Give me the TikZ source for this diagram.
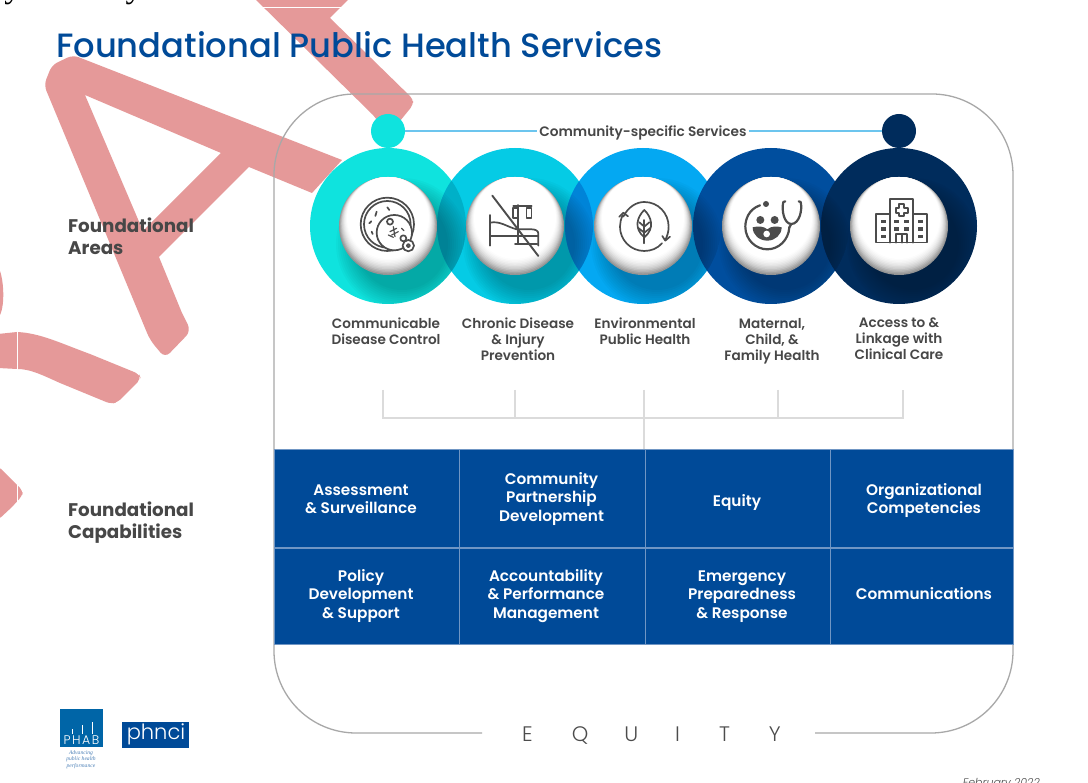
\documentclass[tikz,border=0pt]{standalone}
\usepackage{fontspec}
\setmainfont{Poppins}
\newfontfamily\semi{Poppins SemiBold}
\newfontfamily\medi{Poppins Medium}
\newfontfamily\lite{Poppins Light}
\newfontfamily\serifi{Liberation Serif}
\definecolor{wm}{HTML}{E59999}
\definecolor{navy}{HTML}{004A98}
\definecolor{divd}{HTML}{7096C4}
\definecolor{txt}{HTML}{474747}
\definecolor{icon}{HTML}{4C4C4C}
\definecolor{ra}{HTML}{0FE3DE}
\definecolor{rb}{HTML}{05CBE5}
\definecolor{rc}{HTML}{04A8F2}
\definecolor{rd}{HTML}{004E9E}
\definecolor{re}{HTML}{002C5C}
\definecolor{lensab}{HTML}{00B0C8}
\definecolor{lensbc}{HTML}{0084D8}
\definecolor{barline}{HTML}{6CC5EE}
\tikzset{
  ring/.style={circle,minimum size=156pt,inner sep=0pt,fill=#1},
  topdot/.style={circle,minimum size=34pt,inner sep=0pt,fill=#1},
  grp/.style={font=\bfseries\fontsize{18.3}{22}\selectfont,text=txt,align=left,inner sep=0pt},
  area/.style={font=\semi\fontsize{13.6}{16}\selectfont,text=txt,align=center,inner sep=0pt},
  capt/.style={font=\semi\fontsize{15.3}{18.4}\selectfont,text=white,align=center,inner sep=0pt},
  cell/.style={rectangle,fill=navy,draw=divd,line width=1.1pt,minimum width=#1,minimum height=97pt,inner sep=0pt},
  brk/.style={draw=white!86!black,line width=2.4pt},
  ic/.style={draw=icon,line width=1.7pt,line cap=round,line join=round},
  boxline/.style={draw=white!66!black,line width=1.3pt}
}
\begin{document}
\begin{tikzpicture}[x=1pt,y=-1pt]
\useasboundingbox (0,0) rectangle (1088,783);
\fill[white] (0,0) rectangle (1088,783);
% stray letters cut by the top edge
\node[font=\serifi\fontsize{34}{34}\selectfont,anchor=base,inner sep=0pt] (ya) at (13,-2.5) {y};
\node[font=\serifi\fontsize{34}{34}\selectfont,anchor=base,inner sep=0pt] (yb) at (134,-2.5) {y};
% watermark
\fill[wm,even odd rule]
  (342,160) -- (312,193) -- (249,167) -- (159,257) -- (182,313) [rounded corners=7pt] -- (191,331) -- (165,358) -- (150,340) [rounded corners=6pt] -- (44,85) -- (52,65) -- (73,55) [sharp corners] -- cycle
  (85,95) -- (221,153) -- (143,231) -- cycle;
\fill[wm] (252,-4) -- (373,115) -- (385,130) -- (400,121) [rounded corners=4pt] -- (413,105) -- (413,99) [sharp corners] -- (330,18) -- (352,-4) -- cycle;
\fill[wm] (-2,267) .. controls (4,275) and (6,310) .. (-2,318) -- cycle;
\fill[wm] (-2,334) -- (17,332) .. controls (40,333) and (60,343) .. (90,354) [rounded corners=5pt] -- (139,374) -- (141,379) -- (118,402) -- (111,404) [sharp corners] -- (60,383) .. controls (40,374) and (30,369) .. (17,369) -- (-2,368) -- cycle;
\fill[wm,rounded corners=4pt] (-2,466) -- (23,491) -- (22,496) -- (12,507) -- (-2,520) -- cycle;
\draw[white,line width=.5pt] (0,7) -- (1088,7);
\draw[white,line width=.5pt] (17,7) -- (17,783);
% title
\node[font=\medi\fontsize{33.7}{36}\selectfont,text=navy,anchor=west,inner sep=0pt] (title) at (56,45) {Foundational Public Health Services};
% frame
\draw[boxline] (815,733) -- (931,733) arc[start angle=90,end angle=0,radius=82] -- (1013,175) arc[start angle=0,end angle=-90,radius=81] -- (355,94) arc[start angle=-90,end angle=-180,radius=81] -- (274,651) arc[start angle=180,end angle=90,radius=82] -- (482,733);
\node[font=\lite\fontsize{21}{22}\selectfont,text=icon,inner sep=0pt] (eq) at (651.5,736) {E\hspace{39pt}Q\hspace{36pt}U\hspace{37pt}I\hspace{39pt}T\hspace{39pt}Y};
% rings
\node[ring=ra] (r1) at (388,226) {};
\node[ring=rb] (r2) at (515,226) {};
\begin{scope}\clip (r1.center) circle (78); \fill[lensab] (r2.center) circle (78);\end{scope}
\node[ring=rc] (r3) at (643,226) {};
\begin{scope}\clip (r2.center) circle (78); \fill[lensbc] (r3.center) circle (78);\end{scope}
\node[ring=rd] (r4) at (771,226) {};
\node[ring=re] (r5) at (899,226) {};
\foreach \n in {1,...,5}{
  \begin{scope}
    \clip (r\n.center) circle (78);
    \foreach \s in {46,48,...,66}{
      \fill[black,opacity=.025] ([shift={(14pt,-18pt)}]r\n.center) circle (\s);
    }
  \end{scope}
  % white ball, grey towards its lower rim
  \foreach \t/\g in {0/58,1/64,2/70,3/76,4/81,5/85,6/89,7/92,8/95,9/97,10/99,11/100}{
    \pgfmathsetmacro{\off}{\t*8/11}
    \pgfmathsetmacro{\rad}{49-\t*8/11}
    \fill[white!\g!black] ([shift={(0pt,\off pt)}]r\n.center) circle (\rad);
  }
}
% top bar
\node[topdot=ra] (d1) at (388,131) {};
\node[topdot=re] (d5) at (899,131) {};
\node[font=\semi\fontsize{13.7}{16}\selectfont,text=txt,inner sep=2pt] (cs) at (643,132.5) {Community-specific Services};
\coordinate (csl) at (cs.west |- d1); \coordinate (csr) at (cs.east |- d1);
\draw[draw=barline,line width=2.2pt] (d1) -- (csl);
\draw[draw=barline,line width=2.2pt] (csr) -- (d5);
% icon 1: petri dish
\begin{scope}[shift={(300,100)},x=.3333pt,y=-.3333pt]
  \draw[ic] (262,373) circle (80);
  \draw[ic] (262,373) circle (70);
  \fill[white] (283,398) circle (53);
  \draw[ic] (283,398) circle (53);
  \draw[ic,fill=white] (325,437) circle (17);
  \draw[ic] (325,437) circle (5);
  \draw[ic] (270,365) circle (9);
  \draw[ic] (310,415) circle (9);
  \draw[ic] (230,335) -- (226,348);
  \draw[ic] (262,322) -- (268,330);
  \draw[ic] (208,370) -- (214,364);
  \draw[ic] (215,395) -- (218,402);
  \draw[ic,line width=1.2pt] (265,405) -- (280,412);
  \draw[ic,line width=1.2pt] (305,385) -- (312,392);
  \draw[ic,line width=1.2pt] (270,395) -- (290,385) (275,405) -- (295,395) (280,380) -- (285,410);
\end{scope}
% icon 2: bed
\begin{scope}[shift={(300,100)},x=.3333pt,y=-.3333pt]
  \draw[ic] (570,345) -- (570,437);
  \draw[ic] (570,408) -- (715,408);
  \draw[ic] (715,437) -- (715,400) .. controls (715,392) and (705,388) .. (695,388) -- (650,388) .. controls (620,380) and (600,362) .. (570,368);
  \draw[ic] (655,315) -- (655,432);
  \draw[ic] (640,318) -- (695,318);
  \draw[ic] (640,325) rectangle (653,355);
  \draw[ic] (680,325) rectangle (695,355);
  \draw[ic] (688,318) -- (688,325);
  \draw[ic] (645,432) -- (712,432);
  \draw[ic,line width=1.9pt] (577,287) -- (715,468);
\end{scope}
% icon 3: leaf in cycle
\begin{scope}[shift={(300,100)},x=.3333pt,y=-.3333pt]
  \draw[ic] (970,350) .. controls (985,320) and (1010,306) .. (1033,306) .. controls (1075,306) and (1106,340) .. (1106,380) .. controls (1106,395) and (1102,408) .. (1096,420);
  \draw[ic] (1086,430) .. controls (1072,446) and (1053,453) .. (1033,453) .. controls (992,453) and (960,420) .. (960,380) .. controls (960,368) and (963,358) .. (968,345);
  \draw[ic] (958,350) -- (970,338) -- (984,349);
  \draw[ic] (1087,408) -- (1096,422) -- (1110,410);
  \draw[ic] (1033,330) .. controls (1012,350) and (1000,385) .. (1033,412) .. controls (1066,385) and (1054,350) .. (1033,330) -- cycle;
  \draw[ic] (1033,360) -- (1033,430);
  \draw[ic] (1033,380) -- (1018,367) (1033,380) -- (1048,367) (1033,398) -- (1015,384) (1033,398) -- (1051,384);
\end{scope}
% icon 4: mother, child, stethoscope
\begin{scope}[shift={(680,100)},x=.3333pt,y=-.3333pt]
  \draw[ic,line width=2.2pt] (240,316) .. controls (205,328) and (196,360) .. (196,380) .. controls (196,420) and (228,448) .. (262,448) .. controls (296,448) and (326,420) .. (328,382);
  \fill[icon] (258,312) circle (9);
  \fill[icon] (241,360) circle (12);
  \fill[icon] (284,360) circle (12);
  \fill[icon] (218,382) .. controls (235,378) and (250,378) .. (262,388) .. controls (274,378) and (290,378) .. (305,382) .. controls (305,405) and (285,422) .. (262,422) .. controls (238,422) and (218,405) .. (218,382) -- cycle;
  \fill[white] (260,402) circle (10);
  \draw[ic,line width=2.2pt] (316,304) -- (310,306) .. controls (304,330) and (312,372) .. (334,372) .. controls (358,372) and (368,330) .. (362,306) -- (356,304);
  \draw[ic,line width=2.2pt] (328,382) -- (334,372);
\end{scope}
% icon 5: hospital
\begin{scope}[shift={(680,100)},x=.3333pt,y=-.3333pt]
  \draw[ic] (587,428) -- (587,343) -- (630,343) -- (630,298) -- (700,298) -- (700,343) -- (742,343) -- (742,428) -- cycle;
  \draw[ic] (630,343) -- (630,428) (700,343) -- (700,428);
  \draw[ic] (657,313) -- (673,313) -- (673,323) -- (683,323) -- (683,339) -- (673,339) -- (673,349) -- (657,349) -- (657,339) -- (647,339) -- (647,323) -- (657,323) -- cycle;
  \draw[ic] (648,428) -- (648,402) -- (682,402) -- (682,428) (665,402) -- (665,428);
  \foreach \wx in {602,714}{
    \foreach \wy in {360,382,404}{ \fill[icon] (\wx,\wy) rectangle ++(16,10); }
  }
  \foreach \wx in {642,672}{
    \foreach \wy in {360,382}{ \fill[icon] (\wx,\wy) rectangle ++(16,10); }
  }
\end{scope}
% side labels
\node[grp,anchor=north west] (fa) at (68,218) {Foundational\\Areas};
\node[grp,anchor=north west] (fc) at (68,502) {Foundational\\Capabilities};
% area labels
\node[area,anchor=north] (a1) at (386,318) {\vphantom{Ag}Communicable\\Disease Control};
\node[area,anchor=north] (a2) at (518,318) {\vphantom{Ag}Chronic Disease\\\& Injury\\Prevention};
\node[area,anchor=north] (a3) at (645,318) {\vphantom{Ag}Environmental\\Public Health};
\node[area,anchor=north] (a4) at (772,318) {\vphantom{Ag}Maternal,\\Child, \&\\Family Health};
\node[area,anchor=north] (a5) at (899,318) {\vphantom{Ag}Access to \&\\Linkage with\\Clinical Care};
% bracket
\coordinate (t1) at (383,390); \coordinate (t2) at (515,390); \coordinate (t3) at (644,390); \coordinate (t4) at (778,390); \coordinate (t5) at (903,390);
\coordinate (s) at (644,449);
\draw[brk] (t1) -- (383,418) -- (903,418) -- (t5);
\draw[brk] (t2) -- (515,418);
\draw[brk] (t3) -- (s);
\draw[brk] (t4) -- (778,418);
% capability cells
\node[cell=185pt,minimum height=98.5pt,anchor=north west] (c1) at (274,449) {};
\node[cell=186pt,minimum height=98.5pt,anchor=north west] (c2) at (459,449) {};
\node[cell=185pt,minimum height=98.5pt,anchor=north west] (c3) at (645,449) {};
\node[cell=183pt,minimum height=98.5pt,anchor=north west] (c4) at (830,449) {};
\node[cell=185pt,minimum height=96.5pt,anchor=north west] (c5) at (274,547.5) {};
\node[cell=186pt,minimum height=96.5pt,anchor=north west] (c6) at (459,547.5) {};
\node[cell=185pt,minimum height=96.5pt,anchor=north west] (c7) at (645,547.5) {};
\node[cell=183pt,minimum height=96.5pt,anchor=north west] (c8) at (830,547.5) {};
\node[capt] (l1) at (361,499.5) {Assessment\\\& Surveillance};
\node[capt] (l2) at (551.5,499) {Community\\Partnership\\Development};
\node[capt] (l3) at (737,502.5) {Equity};
\node[capt] (l4) at (924,500.5) {Organizational\\Competencies};
\node[capt] (l5) at (361,596) {Policy\\Development\\\& Support};
\node[capt] (l6) at (546,596) {Accountability\\\& Performance\\Management};
\node[capt] (l7) at (742,596.5) {Emergency\\Preparedness\\\& Response};
\node[capt] (l8) at (924,594) {Communications};
% logos
\node[rectangle,fill=navy!85!cyan,minimum width=43pt,minimum height=38pt,anchor=north west,inner sep=0pt] (phab) at (60,709) {};
\node[font=\lite\fontsize{12.5}{12}\selectfont,text=white,inner sep=0pt] (phabt) at (81.5,740) {P\hspace{1.5pt}H\hspace{1.5pt}A\hspace{1.5pt}B};
\foreach \lx/\ly in {72/729,82/725,92/722}{ \draw[white,line width=.4pt] (\lx,734) -- (\lx,\ly); }
\node[font=\serifi\itshape\fontsize{5.6}{6.5}\selectfont,text=navy!70!white,align=center,inner sep=0pt] (phabs) at (81,759.5) {Advancing\\public health\\performance};
\node[rectangle,fill=navy,minimum width=67pt,minimum height=26pt,anchor=north west,inner sep=0pt] (ph) at (122,722) {};
\node[font=\lite\fontsize{21}{21}\selectfont,text=white,inner sep=0pt] (pht) at (156,734) {phnci};
% date
\node[font=\lite\itshape\fontsize{11}{12}\selectfont,text=icon,anchor=base east,inner sep=0pt] (date) at (1040,786) {February 2022};
\end{tikzpicture}
\end{document}
